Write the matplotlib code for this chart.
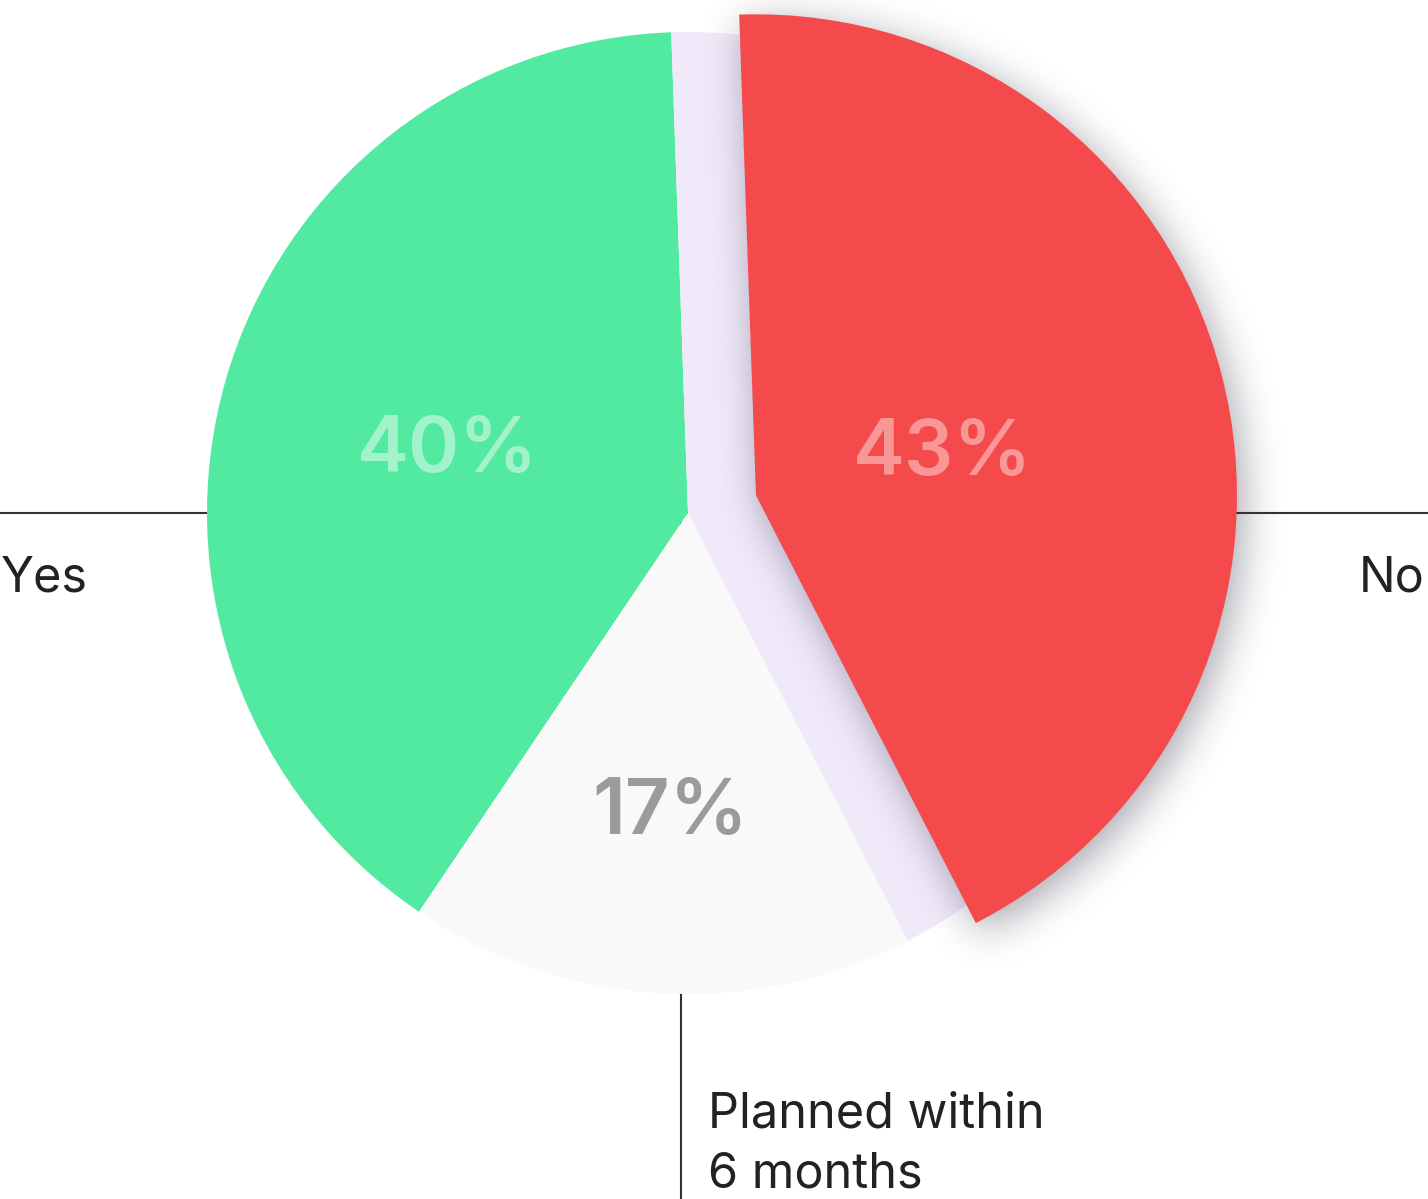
import numpy as np
import matplotlib
matplotlib.use("Agg")
import matplotlib.pyplot as plt
from matplotlib.patches import Wedge

plt.rcParams['font.family'] = ['Inter', 'DejaVu Sans']

################################################################################
# data
labels = ["Yes", "Planned within\n6 months", "No"]
shares = [40, 17, 43]
slice_colors = ["#52E9A0", "#F9F9F9", "#F44A4B"]
pct_colors = ["#A2F3CB", "#9B9B9B", "#F99696"]
pct_dist = [0.52, 0.61, 0.40]
explode = [0, 0, 0.146]
slot_color = "#F0E9FA"

################################################################################
def blur(img, sigma):
    k = np.arange(-3*sigma, 3*sigma+1)
    g = np.exp(-k**2/(2.0*sigma**2))
    g /= g.sum()
    img = np.apply_along_axis(lambda m: np.convolve(m, g, mode='same'), 0, img)
    img = np.apply_along_axis(lambda m: np.convolve(m, g, mode='same'), 1, img)
    return img

################################################################################
W, H = 1428, 1199
cx, cy, R = 688, 513, 481   # pie centre / radius in pixels

xmin, xmax = -cx/R, (W-cx)/R
ymin, ymax = -(H-cy)/R, cy/R

fig = plt.figure(figsize=(W/100.0, H/100.0), dpi=100)
ax = fig.add_axes([0, 0, 1, 1])

wedges, _ = ax.pie(shares, colors=slice_colors, startangle=92, counterclock=True,
                   explode=explode, radius=1, wedgeprops=dict(linewidth=0))
for w in wedges[:2]:
    w.set_zorder(1)
red = wedges[2]
red.set_zorder(4)

# empty slot left by the pulled-out slice
ax.add_patch(Wedge((0, 0), 1, red.theta1, red.theta2, facecolor=slot_color,
                   linewidth=0, zorder=1))

# soft drop shadow under the pulled-out slice
px = (np.arange(W) + 0.5 - cx)/R
py = (cy - np.arange(H) - 0.5)/R
X, Y = np.meshgrid(px, py)
sx, sy = 6.0/R, -9.0/R
rc = red.center
dx = X - sx - rc[0]
dy = Y - sy - rc[1]
rr = np.hypot(dx, dy)
ang = np.degrees(np.arctan2(dy, dx)) % 360
span = red.theta2 - red.theta1
inside = (rr <= red.r) & (((ang - red.theta1 % 360) % 360) <= span)
mask = blur(inside.astype(float), 20)
rgba = np.zeros((H, W, 4))
rgba[..., 0] = 0.14
rgba[..., 1] = 0.12
rgba[..., 2] = 0.2
rgba[..., 3] = mask*0.4
ax.imshow(rgba, extent=(xmin, xmax, ymin, ymax), origin='upper', zorder=2,
          interpolation='nearest')

# leader lines
lc = "#333333"
ax.plot([xmin, 0], [0, 0], color=lc, lw=1.5, zorder=0.5, solid_capstyle='butt')
ax.plot([rc[0] + 0.05, xmax], [0, 0], color=lc, lw=1.5, zorder=3, solid_capstyle='butt')
ax.plot([-7.0/R, -7.0/R], [ymin, 0], color=lc, lw=1.5, zorder=0.5, solid_capstyle='butt')

# percentages inside the slices
for i, w in enumerate(wedges):
    mid = np.radians(0.5*(w.theta1 + w.theta2))
    x = w.center[0] + pct_dist[i]*np.cos(mid)
    y = w.center[1] + pct_dist[i]*np.sin(mid) - 28.0/R
    ax.text(x, y, "%d%%" % shares[i], ha='center', va='baseline', fontsize=56,
            fontweight='semibold', color=pct_colors[i], zorder=5)

# category names
fs = 35
tc = "#222222"
ax.text(xmin + 1.0/R, -78.0/R, labels[0], ha='left', va='baseline', fontsize=fs, color=tc)
ax.text(xmax - 4.0/R, -78.0/R, labels[2], ha='right', va='baseline', fontsize=fs, color=tc)
lines = labels[1].split("\n")
ax.text(20.0/R, -614.0/R, lines[0], ha='left', va='baseline', fontsize=fs, color=tc)
ax.text(20.0/R, -674.0/R, lines[1], ha='left', va='baseline', fontsize=fs, color=tc)

ax.set_xlim(xmin, xmax)
ax.set_ylim(ymin, ymax)
ax.set_aspect('auto')
ax.axis('off')

fig.savefig("out.png", dpi=100)
